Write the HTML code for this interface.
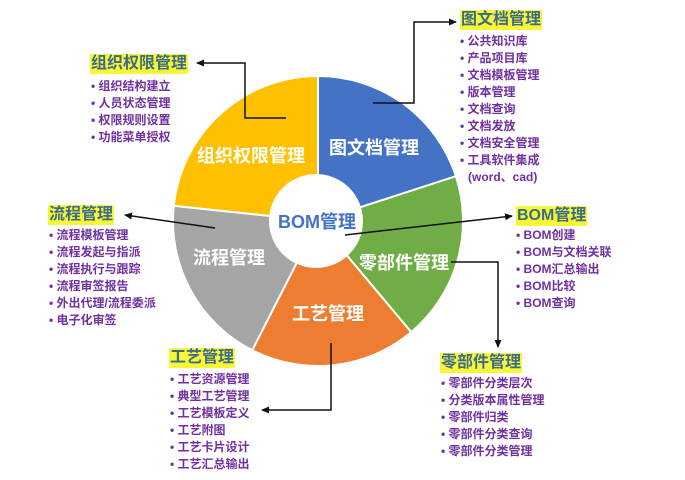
<!DOCTYPE html>
<html><head><meta charset="utf-8"><style>
html,body{margin:0;padding:0;background:#fff;}
body{width:685px;height:480px;position:relative;overflow:hidden;font-family:"Liberation Sans","Noto Sans CJK SC",sans-serif;}
.t{position:absolute;background:#f7f736;color:#3b6a8c;font-weight:bold;font-size:16px;line-height:20px;padding:0 1px;white-space:nowrap;}
.l{position:absolute;color:#7030a0;font-weight:bold;font-size:12px;line-height:17px;white-space:nowrap;}
.l div:before{content:"• ";color:#7030a0;}
.l div.n:before{content:"";}
</style></head><body>
<svg width="685" height="480" style="position:absolute;left:0;top:0">
<defs><marker id="a" markerWidth="8" markerHeight="8" refX="7" refY="4" orient="auto" markerUnits="userSpaceOnUse"><path d="M0,0.5 L8,4 L0,7.5 Z" fill="#111"/></marker></defs>
<g stroke="#fff" stroke-width="2">
<path d="M318,221 L318,76 A145,145 0 0 1 455.9,176.2 Z" fill="#4472c4"/>
<path d="M318,221 L455.9,176.2 A145,145 0 0 1 411.2,332.1 Z" fill="#70ad47"/>
<path d="M318,221 L411.2,332.1 A145,145 0 0 1 252.2,350.2 Z" fill="#ed7d31"/>
<path d="M318,221 L252.2,350.2 A145,145 0 0 1 173.8,205.8 Z" fill="#a5a5a5"/>
<path d="M318,221 L173.8,205.8 A145,145 0 0 1 318,76 Z" fill="#ffc000"/>
</g>
<circle cx="316" cy="221" r="47" fill="#fff"/>
<g font-family="Liberation Sans,Noto Sans CJK SC,sans-serif" font-weight="bold" fill="#fff" font-size="18" text-anchor="middle">
<text x="251" y="162">组织权限管理</text>
<text x="374" y="154">图文档管理</text>
<text x="229" y="264">流程管理</text>
<text x="404" y="269">零部件管理</text>
<text x="328" y="320">工艺管理</text>
<text x="317" y="228" fill="#4472c4" font-size="18">BOM管理</text>
</g>
<g stroke="#111" stroke-width="1.5" fill="none">
<path d="M286,118 H245 V63 H197" marker-end="url(#a)"/>
<path d="M373,103 H414 V22 H456" marker-end="url(#a)"/>
<path d="M215,228 L125,215" marker-end="url(#a)"/>
<path d="M345,235 L512,216" marker-end="url(#a)"/>
<path d="M451,262 H498 V347" marker-end="url(#a)"/>
<path d="M331,343 V410 H262" marker-end="url(#a)"/>
</g>
</svg>
<div class="t" style="left:90px;top:54px">组织权限管理</div>
<div class="l" style="left:91px;top:78px"><div>组织结构建立</div><div>人员状态管理</div><div>权限规则设置</div><div>功能菜单授权</div></div>
<div class="t" style="left:48px;top:205px">流程管理</div>
<div class="l" style="left:49px;top:227px"><div>流程模板管理</div><div>流程发起与指派</div><div>流程执行与跟踪</div><div>流程审签报告</div><div>外出代理/流程委派</div><div>电子化审签</div></div>
<div class="t" style="left:460px;top:10px">图文档管理</div>
<div class="l" style="left:460px;top:33px"><div>公共知识库</div><div>产品项目库</div><div>文档模板管理</div><div>版本管理</div><div>文档查询</div><div>文档发放</div><div>文档安全管理</div><div>工具软件集成</div><div class="n" style="padding-left:8px">(word、cad)</div></div>
<div class="t" style="left:516px;top:206px">BOM管理</div>
<div class="l" style="left:516px;top:227px"><div>BOM创建</div><div>BOM与文档关联</div><div>BOM汇总输出</div><div>BOM比较</div><div>BOM查询</div></div>
<div class="t" style="left:169px;top:348px">工艺管理</div>
<div class="l" style="left:170px;top:371px"><div>工艺资源管理</div><div>典型工艺管理</div><div>工艺模板定义</div><div>工艺附图</div><div>工艺卡片设计</div><div>工艺汇总输出</div></div>
<div class="t" style="left:440px;top:353px">零部件管理</div>
<div class="l" style="left:441px;top:375px"><div>零部件分类层次</div><div>分类版本属性管理</div><div>零部件归类</div><div>零部件分类查询</div><div>零部件分类管理</div></div>
</body></html>
